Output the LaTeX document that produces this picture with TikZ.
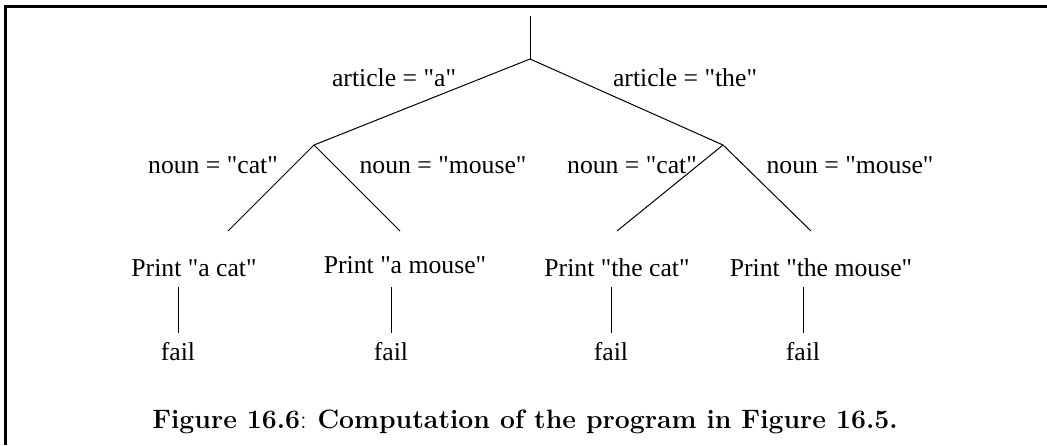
\documentclass[tikz,border=0pt]{standalone}
\usepackage{fontspec}
\newfontfamily\treefont{Liberation Serif}
\begin{document}
\begin{tikzpicture}[x=1pt,y=-1pt,
  lbl/.style={anchor=base,inner sep=0pt,font=\treefont\fontsize{25.7}{30}\selectfont},
  edge/.style={line width=1pt},
  frame/.style={line width=3pt}]
\useasboundingbox (0,0) rectangle (1047,445);
% frame
\coordinate (fb) at (5.5,445);
\coordinate (fc) at (5.5,6.5);
\coordinate (fr) at (1047,6.5);
\draw[frame] (fb) -- (fc) -- (fr);
% tree vertices
\coordinate (top) at (530,16);
\coordinate (root) at (530,59);
\coordinate (A) at (314,145);
\coordinate (T) at (723,145);
\coordinate (ac) at (228,231);
\coordinate (am) at (400,231);
\coordinate (tc) at (617,231);
\coordinate (tm) at (811,231);
\draw[edge] (top) -- (root);
\draw[edge] (root) -- (A);
\draw[edge] (root) -- (T);
\draw[edge] (A) -- (ac);
\draw[edge] (A) -- (am);
\draw[edge] (T) -- (tc);
\draw[edge] (T) -- (tm);
% edge labels
\node[lbl] (la) at (394,86) {article = "a"};
\node[lbl] (lt) at (685,86) {article = "the"};
\node[lbl] (lac) at (213,173) {noun = "cat"};
\node[lbl] (lam) at (443,173) {noun = "mouse"};
\node[lbl] (ltc) at (632,173) {noun = "cat"};
\node[lbl] (ltm) at (850,173) {noun = "mouse"};
% print nodes
\node[lbl] (p1) at (194,276) {Print "a cat"};
\node[lbl] (p2) at (405,273) {Print "a mouse"};
\node[lbl] (p3) at (617,276) {Print "the cat"};
\node[lbl] (p4) at (821,276) {Print "the mouse"};
% fail nodes
\node[lbl] (f1) at (178,360) {fail};
\node[lbl] (f2) at (391,360) {fail};
\node[lbl] (f3) at (611,360) {fail};
\node[lbl] (f4) at (803,360) {fail};
\coordinate (v1a) at (178,287); \coordinate (v1b) at (178,333);
\coordinate (v2a) at (391,287); \coordinate (v2b) at (391,333);
\coordinate (v3a) at (611,287); \coordinate (v3b) at (611,333);
\coordinate (v4a) at (803,287); \coordinate (v4b) at (803,333);
\draw[edge] (v1a) -- (v1b);
\draw[edge] (v2a) -- (v2b);
\draw[edge] (v3a) -- (v3b);
\draw[edge] (v4a) -- (v4b);
% caption
\node[anchor=base,inner sep=0pt,font=\fontsize{26.6}{30}\selectfont] (cap) at (525,428)
  {\textbf{Figure 16.6}: \textbf{Computation of the program in Figure 16.5.}};
\end{tikzpicture}
\end{document}
